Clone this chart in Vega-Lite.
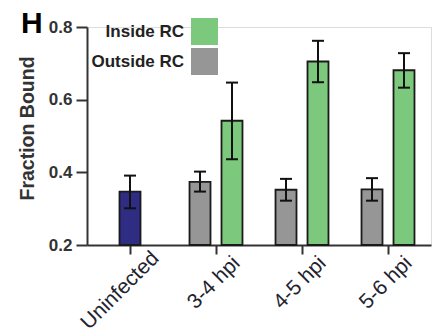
{
  "$schema": "https://vega.github.io/schema/vega-lite/v6.json",
  "autosize": {"type": "none"},
  "width": 344,
  "height": 218,
  "padding": {"left": 87, "top": 27, "right": 1, "bottom": 87},
  "background": "white",
  "title": {"text": "H", "anchor": "start", "frame": "group", "fontSize": 30, "fontWeight": "bold", "font": "Liberation Sans", "color": "#000000", "baseline": "alphabetic", "offset": 0, "dx": -66, "dy": 45},
  "data": {"values": [
    {"cat": "Uninfected", "group": "Uninfected", "value": 0.347, "lo": 0.301, "hi": 0.391},
    {"cat": "3-4 hpi", "group": "Outside RC", "value": 0.374, "lo": 0.347, "hi": 0.402},
    {"cat": "3-4 hpi", "group": "Inside RC", "value": 0.542, "lo": 0.436, "hi": 0.647},
    {"cat": "4-5 hpi", "group": "Outside RC", "value": 0.352, "lo": 0.322, "hi": 0.382},
    {"cat": "4-5 hpi", "group": "Inside RC", "value": 0.705, "lo": 0.648, "hi": 0.762},
    {"cat": "5-6 hpi", "group": "Outside RC", "value": 0.353, "lo": 0.322, "hi": 0.384},
    {"cat": "5-6 hpi", "group": "Inside RC", "value": 0.681, "lo": 0.633, "hi": 0.728}
  ]},
  "encoding": {
    "x": {"field": "cat", "type": "nominal", "sort": ["Uninfected", "3-4 hpi", "4-5 hpi", "5-6 hpi"],
      "scale": {"paddingInner": 0.384, "paddingOuter": 0.192},
      "axis": {"title": null, "labelAngle": -45, "labelAlign": "right", "labelBaseline": "top", "labelFont": "Liberation Sans", "labelFontSize": 21, "labelColor": "#23232f", "tickSize": 9, "tickWidth": 2, "tickColor": "#333333", "domainColor": "#333333", "domainWidth": 2,
        "labelPadding": {"condition": {"test": "datum.value == 'Uninfected'", "value": -7}, "value": -2},
        "labelOffset": {"condition": {"test": "datum.value == 'Uninfected'", "value": 18}, "value": 13},
        "labelBound": false, "labelOverlap": false}}
  },
  "layer": [
    {
      "transform": [{"filter": "datum.group == 'Uninfected'"}],
      "mark": {"type": "bar", "width": 21, "color": "#2e2c83", "stroke": "#1a1a1a", "strokeWidth": 1.8},
      "encoding": {
        "y": {"field": "value", "type": "quantitative", "scale": {"domain": [0.2, 0.8], "nice": false, "zero": false},
          "axis": {"title": "Fraction Bound", "values": [0.2, 0.4, 0.6, 0.8], "format": ".1f", "grid": false, "labelFont": "Liberation Sans", "labelFontSize": 17, "labelFontWeight": "bold", "labelColor": "#333333", "tickSize": 11, "tickWidth": 2, "tickColor": "#333333", "domainColor": "#333333", "domainWidth": 2, "labelPadding": 4, "titleFont": "Liberation Sans", "titleFontSize": 19.5, "titleFontWeight": "bold", "titleColor": "#333333", "titlePadding": 11, "titleY": 101}},
        "y2": {"datum": 0.2}
      }
    },
    {
      "transform": [{"filter": "datum.group != 'Uninfected'"}],
      "mark": {"type": "bar", "stroke": "#1a1a1a", "strokeWidth": 1.8},
      "encoding": {
        "xOffset": {"field": "group", "type": "nominal", "scale": {"domain": ["Outside RC", "Inside RC"], "paddingInner": 0.344, "paddingOuter": 0}},
        "y": {"field": "value", "type": "quantitative"},
        "y2": {"datum": 0.2},
        "color": {"field": "group", "type": "nominal", "scale": {"domain": ["Inside RC", "Outside RC"], "range": ["#7cc87c", "#969696"]},
          "legend": {"orient": "none", "legendX": 104, "legendY": -9, "title": null, "padding": 0, "symbolType": "square", "symbolSize": 729, "symbolStrokeWidth": 0, "symbolOpacity": 1, "labelAlign": "right", "labelOffset": -34, "labelFont": "Liberation Sans", "labelFontSize": 17, "labelFontWeight": "bold", "labelColor": "#222222", "rowPadding": 3,
            "encode": {"symbols": {"update": {"strokeWidth": {"value": 0}}}}}}
      }
    },
    {
      "transform": [{"filter": "datum.group != 'Uninfected'"}],
      "mark": {"type": "rule", "color": "#111111", "strokeWidth": 2},
      "encoding": {
        "xOffset": {"field": "group", "type": "nominal"},
        "y": {"field": "lo", "type": "quantitative"},
        "y2": {"field": "hi"}
      }
    },
    {
      "transform": [{"filter": "datum.group != 'Uninfected'"}, {"fold": ["lo", "hi"], "as": ["end", "yv"]}],
      "mark": {"type": "tick", "color": "#111111", "size": 12, "thickness": 2, "opacity": 1},
      "encoding": {
        "xOffset": {"field": "group", "type": "nominal"},
        "y": {"field": "yv", "type": "quantitative"}
      }
    },
    {
      "transform": [{"filter": "datum.group == 'Uninfected'"}],
      "mark": {"type": "rule", "color": "#111111", "strokeWidth": 2},
      "encoding": {
        "y": {"field": "lo", "type": "quantitative"},
        "y2": {"field": "hi"}
      }
    },
    {
      "transform": [{"filter": "datum.group == 'Uninfected'"}, {"fold": ["lo", "hi"], "as": ["end", "yv"]}],
      "mark": {"type": "tick", "color": "#111111", "size": 12, "thickness": 2, "opacity": 1},
      "encoding": {
        "y": {"field": "yv", "type": "quantitative"}
      }
    }
  ]
}
